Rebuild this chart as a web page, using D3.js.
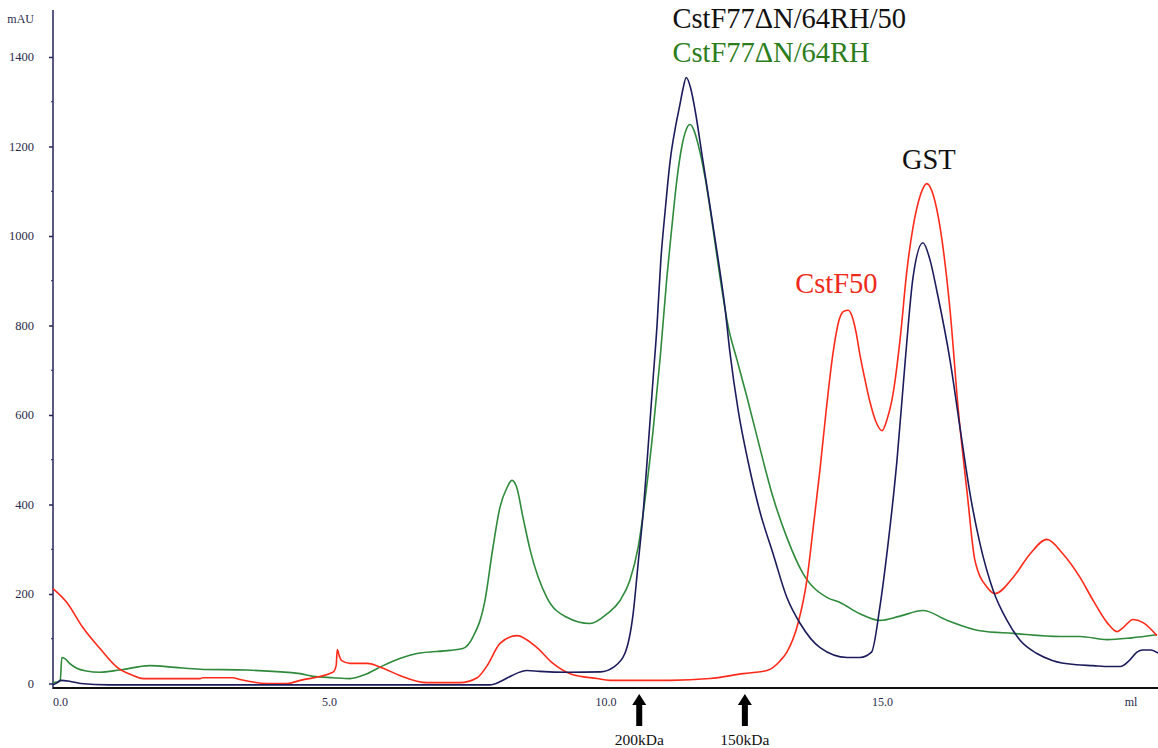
<!DOCTYPE html>
<html>
<head>
<meta charset="utf-8">
<script src="https://cdn.jsdelivr.net/npm/d3@7"></script>
<style>
  body { margin: 0; background: #fff; }
  svg { display: block; font-family: "Liberation Serif", "DejaVu Serif", serif; }
</style>
</head>
<body>
<div id="chart"></div>
<script>
// elution volume (ml), absorbance (mAU)
var traceComplex = [ // CstF77dN/64RH/50 + GST (navy)
  [0,-3],[0.08,2],[0.13,7],[0.3,5],[0.5,0],[1,-3],[4,-3],[7.9,-3],[8.1,5],[8.3,18],[8.57,29],
  [8.8,27],[9.3,25],[9.9,26],[10.13,36],[10.34,67],[10.49,156],[10.58,268],[10.67,380],[10.76,527],
  [10.85,680],[10.92,797],[10.99,945],[11.07,1058],[11.16,1169],[11.25,1240],[11.33,1290],
  [11.39,1328],[11.45,1354],[11.53,1330],[11.61,1281],[11.75,1169],[11.85,1090],[11.95,1010],
  [12.03,945],[12.15,840],[12.24,740],[12.39,610],[12.57,495],[12.78,385],[13.02,290],
  [13.27,192],[13.51,134],[13.87,80],[14.36,58],[14.59,58],[14.8,70],[14.95,170],[15.1,313],
  [15.26,498],[15.41,722],[15.55,907],[15.73,985],[15.85,950],[15.99,872],[16.22,722],[16.4,572],
  [16.58,425],[16.76,313],[17.0,208],[17.25,141],[17.49,96],[17.79,67],[18.08,51],[18.5,42],
  [18.8,40],[19.1,38],[19.3,38],[19.45,50],[19.6,70],[19.7,75],[19.85,75],[19.98,68]
];

var traceCstF77 = [ // CstF77dN/64RH (green)
  [0,2],[0.13,5],[0.16,58],[0.22,55],[0.3,45],[0.43,34],[0.6,28],[0.85,25],[1.2,30],[1.75,40],
  [2.2,36],[2.66,32],[3.5,30],[4.47,22],[4.7,16],[5.06,13],[5.37,11],[5.68,22],[5.97,40],[6.27,56],
  [6.58,67],[7.18,74],[7.41,78],[7.59,103],[7.81,185],[7.95,300],[8.08,393],[8.21,438],[8.3,454],
  [8.38,440],[8.5,370],[8.63,297],[8.93,192],[9.29,148],[9.71,134],[10.02,156],[10.25,185],
  [10.43,230],[10.58,304],[10.71,416],[10.85,565],[10.98,730],[11.1,908],[11.19,1020],
  [11.28,1125],[11.37,1200],[11.45,1238],[11.52,1249],[11.59,1236],[11.66,1207],[11.79,1131],
  [11.93,1020],[12.06,908],[12.21,797],[12.37,722],[12.55,639],[12.78,527],[13.02,416],
  [13.27,326],[13.56,246],[14.0,192],[14.23,181],[14.59,156],[14.95,141],[15.3,150],[15.73,163],
  [16.17,141],[16.76,118],[17.36,112],[18.21,105],[18.57,105],[19.06,98],[19.5,102],[19.96,109]
];

var traceCstF50 = [ // CstF50 (red)
  [0,212],[0.25,181],[0.54,125],[0.85,78],[1.16,36],[1.45,18],[1.63,11],[2.66,11],[2.71,13],
  [3.25,13],[3.38,9],[3.87,0],[4.23,0],[4.47,7],[5.06,25],[5.12,40],[5.14,76],[5.18,60],[5.22,51],
  [5.37,45],[5.68,45],[5.97,34],[6.27,18],[6.76,2],[7.36,2],[7.67,13],[7.85,40],[8.08,89],
  [8.39,107],[8.75,80],[9.04,45],[9.35,22],[9.84,11],[10.07,7],[11.16,7],[11.88,11],[12.48,22],
  [12.91,29],[13.15,51],[13.27,70],[13.47,134],[13.63,230],[13.74,342],[13.87,480],[13.98,610],
  [14.1,735],[14.22,815],[14.3,832],[14.38,834],[14.45,820],[14.52,785],[14.59,735],[14.68,680],
  [14.77,630],[14.88,585],[14.99,565],[15.08,590],[15.19,648],
  [15.32,773],[15.44,923],[15.55,1019],[15.68,1090],[15.8,1117],[15.92,1090],[16.04,1019],
  [16.22,834],[16.37,610],[16.53,425],[16.67,275],[16.89,215],[17.03,201],[17.36,237],[17.67,290],
  [17.97,322],[18.26,290],[18.57,237],[18.81,185],[19.06,136],[19.24,116],[19.35,125],[19.53,143],
  [19.71,136],[19.96,107]
];

var yTicks = [0, 200, 400, 600, 800, 1000, 1200, 1400];
var yMinorTicks = [100, 300, 500, 700, 900, 1100, 1300];
var xTicks = [0, 5, 10, 15];
var xTickLabels = ['0.0', '5.0', '10.0', '15.0'];
var markerVolumes = [10.6, 12.51];
var markerLabels = ['200kDa', '150kDa'];

var width = 1158, height = 748;

var svg = d3.select('#chart').append('svg')
    .attr('width', width)
    .attr('height', height);

var x = d3.scaleLinear().domain([0, 19.98]).range([53, 1158]);
var y = d3.scaleLinear().domain([0, 1505]).range([683.5, 10]);

var axisColor = '#23235a';

// y axis
var yAxis = d3.axisLeft(y).tickValues(yTicks).tickSize(4).tickPadding(15)
    .tickFormat(d3.format('d'));
var yg = svg.append('g').attr('transform', 'translate(53,0)').call(yAxis);
yg.select('.domain').remove();
yg.selectAll('line').attr('stroke', axisColor).attr('stroke-width', 1.5);
yg.selectAll('text').attr('fill', '#2a2a4a').style('font-size', '12.5px')
    .style('font-family', '"Liberation Serif", serif');

svg.append('g').selectAll('line')
    .data(yMinorTicks)
    .enter()
    .append('line')
    .attr('x1', 51).attr('x2', 53)
    .attr('y1', function(d){ return y(d); })
    .attr('y2', function(d){ return y(d); })
    .attr('stroke', axisColor);

svg.append('line')
    .attr('x1', 53).attr('x2', 53).attr('y1', 10).attr('y2', 689)
    .attr('stroke', axisColor).attr('stroke-width', 1.5);

svg.append('text')
    .attr('x', 34).attr('y', 23)
    .attr('text-anchor', 'end')
    .attr('fill', '#2a2a4a')
    .style('font-size', '12px')
    .text('mAU');

// x axis
svg.append('line')
    .attr('x1', 53).attr('x2', 1158).attr('y1', 688).attr('y2', 688)
    .attr('stroke', '#111').attr('stroke-width', 2);

svg.append('g').selectAll('text')
    .data(xTicks)
    .enter()
    .append('text')
    .attr('x', function(d){ return x(d); })
    .attr('y', 705.5)
    .attr('text-anchor', function(d){ return d === 0 ? 'start' : 'middle'; })
    .attr('fill', '#2a2a4a')
    .style('font-size', '12px')
    .text(function(d, i){ return xTickLabels[i]; });

svg.append('text')
    .attr('x', 1131).attr('y', 705.5)
    .attr('text-anchor', 'middle')
    .attr('fill', '#2a2a4a')
    .style('font-size', '12px')
    .text('ml');

// traces
var line = d3.line()
    .x(function(d){ return x(d[0]); })
    .y(function(d){ return y(d[1]); })
    .curve(d3.curveMonotoneX);

var traces = [
  {data: traceCstF77, color: '#2f8a3c'},
  {data: traceCstF50, color: '#ff2a1a'},
  {data: traceComplex, color: '#1c1c5c'}
];

svg.append('g').selectAll('path')
    .data(traces)
    .enter()
    .append('path')
    .attr('d', function(d){ return line(d.data); })
    .attr('fill', 'none')
    .attr('stroke', function(d){ return d.color; })
    .attr('stroke-width', 1.6);

// size marker arrows
var arrows = svg.append('g').selectAll('g')
    .data(markerVolumes)
    .enter()
    .append('g')
    .attr('transform', function(d){ return 'translate(' + x(d) + ',0)'; });

arrows.append('path')
    .attr('d', 'M0,694 L-7,705 L-3,705 L-3,726 L3,726 L3,705 L7,705 Z')
    .attr('fill', '#000');

arrows.append('text')
    .attr('y', 745)
    .attr('text-anchor', 'middle')
    .attr('fill', '#111')
    .style('font-size', '15.5px')
    .text(function(d, i){ return markerLabels[i]; });

// peak labels
var labels = [
  {text: 'CstF77\u0394N/64RH/50', x: 11.2, y: 1464, color: '#111'},
  {text: 'CstF77\u0394N/64RH', x: 11.2, y: 1388, color: '#2c7d1c'},
  {text: 'GST', x: 15.35, y: 1150, color: '#111'},
  {text: 'CstF50', x: 13.42, y: 873, color: '#ee2a1a'}
];

svg.append('g').selectAll('text')
    .data(labels)
    .enter()
    .append('text')
    .attr('x', function(d){ return x(d.x); })
    .attr('y', function(d){ return y(d.y); })
    .attr('fill', function(d){ return d.color; })
    .style('font-size', '28.5px')
    .text(function(d){ return d.text; });
</script>
</body>
</html>
